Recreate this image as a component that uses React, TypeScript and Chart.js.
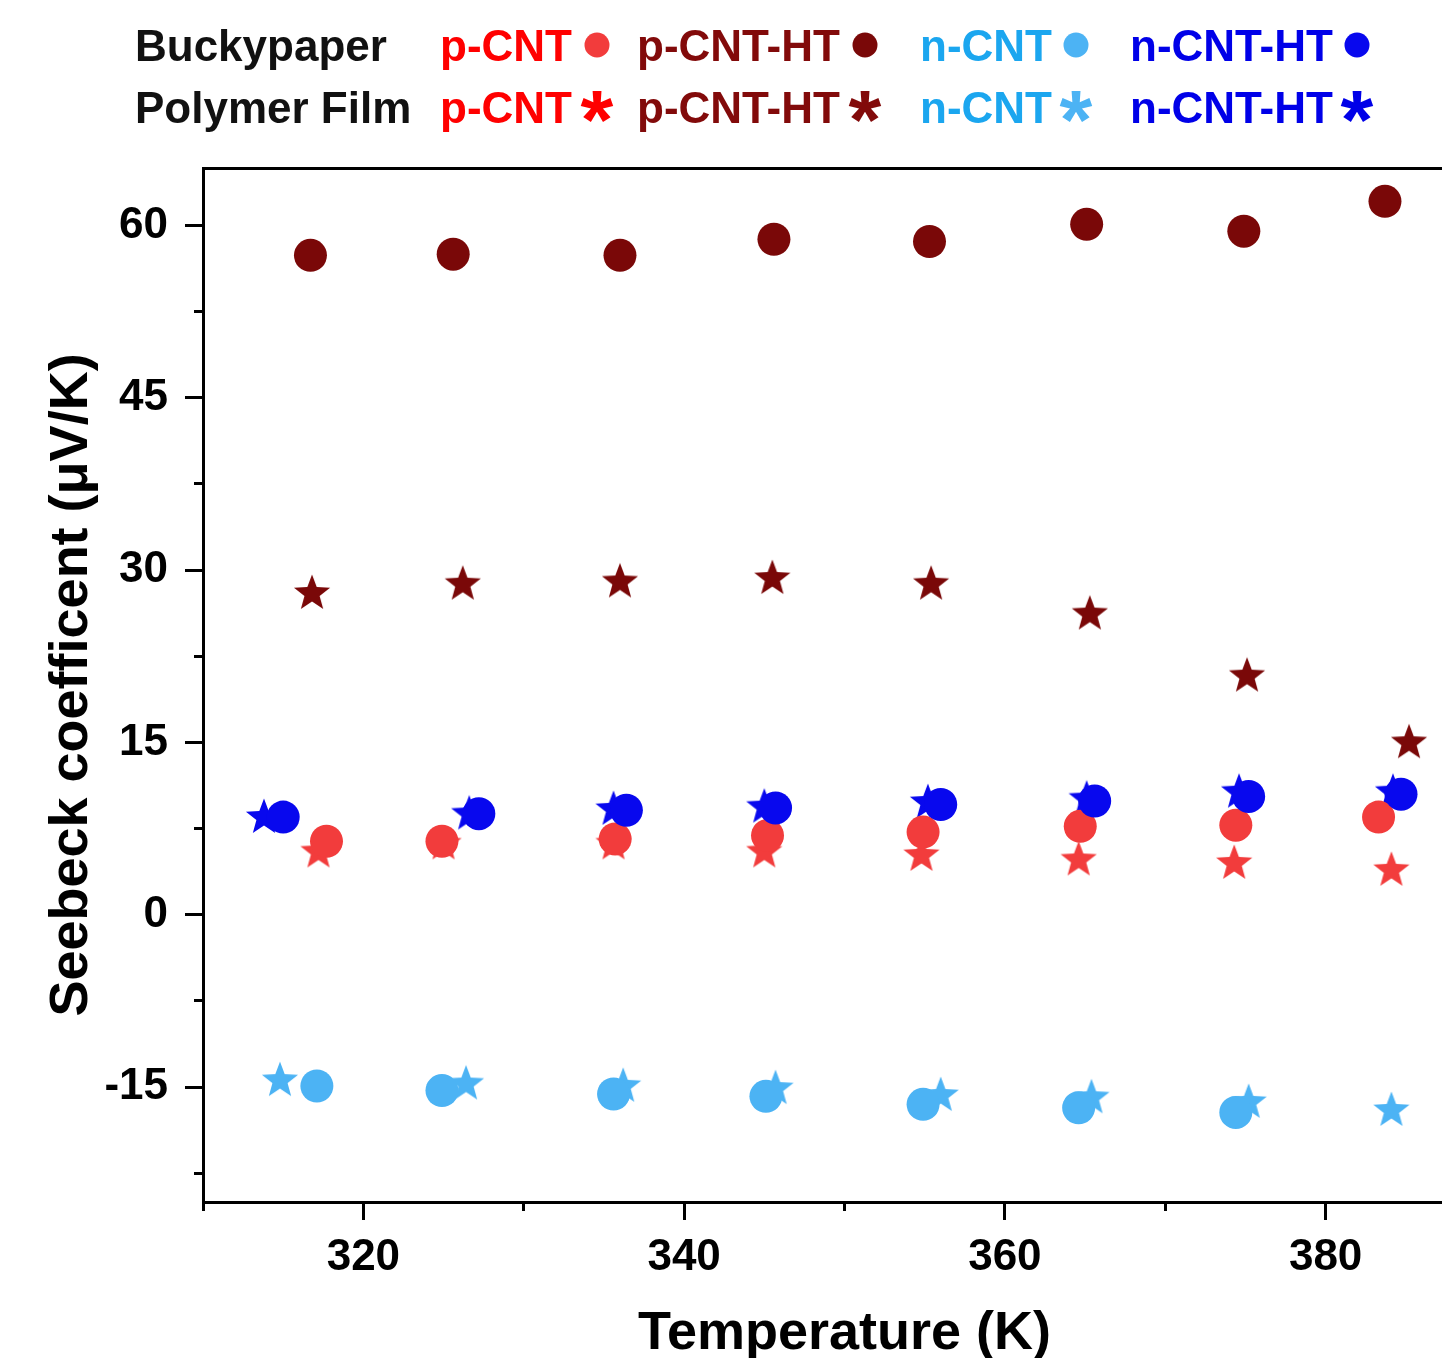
import React, { useEffect, useRef } from 'react';
import { Chart, registerables } from 'chart.js';

Chart.register(...registerables);

const FONT = "'Liberation Sans', Arial, Helvetica, sans-serif";

// ---- Data (Temperature K, Seebeck µV/K) ----
// Buckypaper (circles)
const bpPcntT = [317.7, 324.9, 335.7, 345.2, 354.9, 364.7, 374.4, 383.3];
const bpPcntS = [6.4, 6.4, 6.6, 6.9, 7.2, 7.7, 7.8, 8.5];
const bpPcntHtT = [316.7, 325.6, 336.0, 345.6, 355.3, 365.1, 374.9, 383.7];
const bpPcntHtS = [57.4, 57.5, 57.4, 58.8, 58.6, 60.1, 59.5, 62.1];
const bpNcntT = [317.1, 324.9, 335.6, 345.1, 354.9, 364.6, 374.4];
const bpNcntS = [-14.9, -15.3, -15.6, -15.8, -16.5, -16.8, -17.2];
const bpNcntHtT = [315.0, 327.2, 336.4, 345.7, 356.0, 365.6, 375.2, 384.7];
const bpNcntHtS = [8.5, 8.8, 9.1, 9.3, 9.6, 9.9, 10.3, 10.5];
// Polymer film (stars)
const pfPcntT = [317.2, 325.0, 335.6, 345.0, 354.8, 364.6, 374.3, 384.1];
const pfPcntS = [5.6, 6.3, 6.3, 5.6, 5.3, 4.9, 4.6, 4.0];
const pfPcntHtT = [316.8, 326.2, 336.0, 345.5, 355.4, 365.3, 375.1, 385.2];
const pfPcntHtS = [28.1, 28.9, 29.1, 29.4, 28.9, 26.3, 20.9, 15.1];
const pfNcntT = [314.8, 326.4, 336.2, 345.7, 356.0, 365.4, 375.2, 384.1];
const pfNcntS = [-14.3, -14.6, -14.8, -15.0, -15.6, -15.8, -16.2, -16.9];
const pfNcntHtT = [313.8, 326.6, 335.6, 345.0, 355.2, 365.1, 374.6, 384.2];
const pfNcntHtS = [8.6, 8.9, 9.3, 9.5, 9.9, 10.2, 10.8, 10.8];

// ---- Ticks ----
const xMajorTicks = [320, 340, 360, 380];
const xMinorTicks = [310, 320, 330, 340, 350, 360, 370, 380, 390];
const yMajorTicks = [-15, 0, 15, 30, 45, 60];
const yMinorTicks = [-22.5, -15, -7.5, 0, 7.5, 15, 22.5, 30, 37.5, 45, 52.5, 60];

// ---- Legend ----
const legendRows = ['Buckypaper', 'Polymer Film'];
const seriesNames = ['p-CNT', 'p-CNT-HT', 'n-CNT', 'n-CNT-HT'];
const textColors = ['#ff0000', '#820a0a', '#1ba6ef', '#0000e8'];
const markColors = ['#f23c3c', '#7a0808', '#4cb3f4', '#0808ee'];

const pts = (xs: number[], ys: number[]) => xs.map((x, i) => ({ x, y: ys[i] }));

function makeStar(color: string, R: number): HTMLCanvasElement {
  const size = Math.ceil(R * 2 + 2);
  const c = document.createElement('canvas');
  c.width = size;
  c.height = size;
  const ctx = c.getContext('2d')!;
  const cx = size / 2;
  const cy = size / 2 + R * 0.08;
  const r = R * 0.42;
  ctx.beginPath();
  for (let i = 0; i < 10; i++) {
    const a = -Math.PI / 2 + (i * Math.PI) / 5;
    const rad = i % 2 === 0 ? R : r;
    const px = cx + rad * Math.cos(a);
    const py = cy + rad * Math.sin(a);
    if (i === 0) ctx.moveTo(px, py);
    else ctx.lineTo(px, py);
  }
  ctx.closePath();
  ctx.fillStyle = color;
  ctx.fill();
  return c;
}

const legendPlugin = {
  id: 'customLegend',
  afterDraw(chart: any) {
    const ctx = chart.ctx as CanvasRenderingContext2D;
    const baselines = [61, 123];
    const labelX = 135;
    const colX = [440, 637, 920, 1130];
    const markX = [597, 865, 1076, 1357];
    ctx.save();
    ctx.textBaseline = 'alphabetic';
    ctx.textAlign = 'left';
    legendRows.forEach((row, r) => {
      const by = baselines[r];
      ctx.font = `bold 44px ${FONT}`;
      ctx.fillStyle = '#111';
      ctx.fillText(row, labelX, by);
      seriesNames.forEach((name, i) => {
        ctx.font = `bold 44px ${FONT}`;
        ctx.fillStyle = textColors[i];
        ctx.textAlign = 'left';
        ctx.fillText(name, colX[i], by);
        const cy = by - 16;
        if (r === 0) {
          ctx.beginPath();
          ctx.arc(markX[i], cy, 12.5, 0, Math.PI * 2);
          ctx.fillStyle = markColors[i];
          ctx.fill();
        } else {
          ctx.font = `bold 100px ${FONT}`;
          const m = ctx.measureText('*');
          const h = m.actualBoundingBoxAscent + m.actualBoundingBoxDescent;
          const fs = (100 * 32) / (h || 40);
          ctx.font = `bold ${fs}px ${FONT}`;
          const m2 = ctx.measureText('*');
          const mid = (m2.actualBoundingBoxAscent - m2.actualBoundingBoxDescent) / 2;
          ctx.textAlign = 'center';
          ctx.fillStyle = i === 2 ? markColors[i] : textColors[i];
          ctx.fillText('*', markX[i], cy + mid);
        }
      });
    });
    ctx.restore();
  },
};

const framePlugin = {
  id: 'frame',
  afterDraw(chart: any) {
    const { ctx, chartArea } = chart;
    ctx.save();
    ctx.strokeStyle = '#000';
    ctx.lineWidth = 3;
    ctx.beginPath();
    ctx.moveTo(chartArea.left, chartArea.top + 0.5);
    ctx.lineTo(chartArea.right, chartArea.top + 0.5);
    ctx.lineTo(chartArea.right, chartArea.bottom);
    ctx.stroke();
    ctx.restore();
  },
};

export default function App() {
  const ref = useRef<HTMLCanvasElement | null>(null);

  useEffect(() => {
    if (!ref.current) return;
    const circle = (label: string, xs: number[], ys: number[], color: string) => ({
      label,
      data: pts(xs, ys),
      pointStyle: 'circle',
      pointRadius: 16.5,
      pointHoverRadius: 16.5,
      pointBorderWidth: 0,
      backgroundColor: color,
      borderColor: color,
      xAxisID: 'x',
      yAxisID: 'y',
    });
    const star = (label: string, xs: number[], ys: number[], color: string) => {
      const img = makeStar(color, 19);
      return {
        label,
        data: pts(xs, ys),
        pointStyle: img,
        pointRadius: 19,
        pointHoverRadius: 19,
        pointBorderWidth: 0,
        backgroundColor: color,
        borderColor: color,
        xAxisID: 'x',
        yAxisID: 'y',
      };
    };

    const tickFont = { family: FONT, size: 44, weight: 'bold' as const };

    const chart = new Chart(ref.current, {
      type: 'scatter',
      data: {
        datasets: [
          circle('Buckypaper n-CNT-HT', bpNcntHtT, bpNcntHtS, markColors[3]),
          circle('Buckypaper p-CNT', bpPcntT, bpPcntS, markColors[0]),
          circle('Buckypaper p-CNT-HT', bpPcntHtT, bpPcntHtS, markColors[1]),
          circle('Buckypaper n-CNT', bpNcntT, bpNcntS, markColors[2]),
          star('Polymer Film n-CNT-HT', pfNcntHtT, pfNcntHtS, markColors[3]),
          star('Polymer Film p-CNT', pfPcntT, pfPcntS, markColors[0]),
          star('Polymer Film p-CNT-HT', pfPcntHtT, pfPcntHtS, markColors[1]),
          star('Polymer Film n-CNT', pfNcntT, pfNcntS, markColors[2]),
        ] as any,
      },
      options: {
        animation: false,
        responsive: false,
        devicePixelRatio: 1,
        layout: { padding: { top: 168, left: 0, right: 34, bottom: 0 } },
        plugins: { legend: { display: false }, tooltip: { enabled: false }, title: { display: false } },
        scales: {
          x: {
            type: 'linear',
            position: 'bottom',
            min: 310,
            max: 390,
            weight: 1,
            afterBuildTicks: (s: any) => {
              s.ticks = xMajorTicks.map((v) => ({ value: v }));
            },
            afterFit: (s: any) => {
              s.height = 156;
              s.paddingLeft = 0;
              s.paddingRight = 0;
            },
            border: { display: true, color: '#000', width: 3 },
            grid: { drawOnChartArea: false, drawTicks: true, tickLength: 18, tickWidth: 3, tickColor: '#000', color: '#000' },
            ticks: { color: '#000', font: tickFont, padding: 11, maxRotation: 0, autoSkip: false, callback: (v: any) => String(v) },
            title: {
              display: true,
              text: 'Temperature (K)',
              color: '#000',
              font: { family: FONT, size: 54, weight: 'bold', lineHeight: 0.8 },
              padding: { top: 0, bottom: 2 },
            },
          },
          xMinor: {
            type: 'linear',
            position: 'bottom',
            min: 310,
            max: 390,
            weight: 0,
            afterBuildTicks: (s: any) => {
              s.ticks = xMinorTicks.map((v) => ({ value: v }));
            },
            afterFit: (s: any) => {
              s.height = 0;
              s.paddingLeft = 0;
              s.paddingRight = 0;
            },
            border: { display: false },
            grid: { drawOnChartArea: false, drawTicks: true, tickLength: 9, tickWidth: 3, tickColor: '#000', color: '#000' },
            ticks: { display: false },
            title: { display: false },
          },
          y: {
            type: 'linear',
            position: 'left',
            min: -25,
            max: 65,
            weight: 1,
            afterBuildTicks: (s: any) => {
              s.ticks = yMajorTicks.map((v) => ({ value: v }));
            },
            afterFit: (s: any) => {
              s.width = 203;
              s.paddingTop = 0;
              s.paddingBottom = 0;
            },
            border: { display: true, color: '#000', width: 3 },
            grid: { drawOnChartArea: false, drawTicks: true, tickLength: 18, tickWidth: 3, tickColor: '#000', color: '#000' },
            ticks: { color: '#000', font: tickFont, padding: 17, autoSkip: false, callback: (v: any) => String(v) },
            title: {
              display: true,
              text: 'Seebeck coefficent (μV/K)',
              color: '#000',
              font: { family: FONT, size: 54, weight: 'bold', lineHeight: 1.2 },
              padding: { top: 40, bottom: 0 },
            },
          },
          yMinor: {
            type: 'linear',
            position: 'left',
            min: -25,
            max: 65,
            weight: 0,
            afterBuildTicks: (s: any) => {
              s.ticks = yMinorTicks.map((v) => ({ value: v }));
            },
            afterFit: (s: any) => {
              s.width = 0;
              s.paddingTop = 0;
              s.paddingBottom = 0;
            },
            border: { display: false },
            grid: { drawOnChartArea: false, drawTicks: true, tickLength: 9, tickWidth: 3, tickColor: '#000', color: '#000' },
            ticks: { display: false },
            title: { display: false },
          },
        },
      } as any,
      plugins: [legendPlugin, framePlugin],
    });
    return () => chart.destroy();
  }, []);

  return (
    <div
      style={{
        position: 'fixed',
        left: 0,
        top: 0,
        width: 1442,
        height: 1358,
        overflow: 'hidden',
        background: '#fff',
      }}
    >
      <canvas ref={ref} width={1520} height={1358} style={{ display: 'block' }} />
    </div>
  );
}
